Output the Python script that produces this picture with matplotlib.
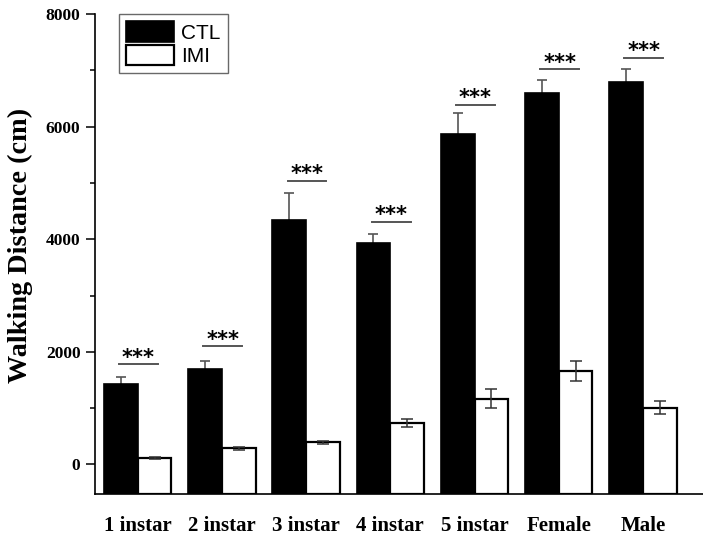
import numpy as np
import matplotlib
matplotlib.use('Agg')
import matplotlib.pyplot as plt
from matplotlib.ticker import MultipleLocator

# walking distance per stage, control vs imidacloprid
stages = ['1 instar', '2 instar', '3 instar', '4 instar', '5 instar', 'Female', 'Male']
ctl_mean = [1420, 1700, 4340, 3930, 5870, 6590, 6790]
ctl_err = [125, 145, 480, 160, 370, 230, 240]
imi_mean = [115, 285, 390, 735, 1165, 1660, 1010]
imi_err = [10, 20, 20, 65, 170, 170, 112]
sig_height = [1775, 2095, 5040, 4305, 6385, 7015, 7225]
sig_label = ['***'] * 7

x = np.arange(1, len(stages) + 1)
w = 0.4
ybase = -525  # bars start at the bottom axis line

fig = plt.figure(figsize=(7.03, 5.35), dpi=100)
ax = fig.add_axes([95 / 703, 41 / 535, 1 - 95 / 703, 480 / 535])

ax.bar(x - w / 2, np.array(ctl_mean) - ybase, w, bottom=ybase, color='black',
       edgecolor='black', linewidth=1.2, label='CTL', zorder=2)
ax.bar(x + w / 2, np.array(imi_mean) - ybase, w, bottom=ybase, color='white',
       edgecolor='black', linewidth=1.6, label='IMI', zorder=2)
# CTL error bars sit behind the black bars, so only the upper half shows
ax.errorbar(x - w / 2, ctl_mean, yerr=ctl_err, fmt='none', ecolor='#555555',
            elinewidth=1.2, capsize=3.5, capthick=1.2, zorder=1)
ax.errorbar(x + w / 2, imi_mean, yerr=imi_err, fmt='none', ecolor='#333333',
            elinewidth=1.1, capsize=4, capthick=1.1, zorder=3)

# significance lines and stars
for xi, h, s in zip(x, sig_height, sig_label):
    ax.plot([xi - 0.22, xi + 0.24], [h, h], color='#555555', lw=1.4, zorder=3)
    ax.text(xi + 0.01, h + 10, s, ha='center', va='baseline', fontsize=15,
            family='DejaVu Sans', fontweight='bold')

ax.set_xlim(0.493, 7.713)
ax.set_ylim(ybase, 8000)
ax.set_xticks(x)
ax.set_xticklabels(stages, family='Liberation Serif', fontweight='bold', fontsize=15)
ax.tick_params(axis='x', length=0, pad=16)
ax.yaxis.set_major_locator(MultipleLocator(2000))
ax.yaxis.set_minor_locator(MultipleLocator(1000))
ax.tick_params(axis='y', which='major', length=6.5, width=1.1, pad=4)
ax.tick_params(axis='y', which='minor', length=3.5, width=1.1)
for lab in ax.get_yticklabels():
    lab.set_family('Liberation Serif')
    lab.set_fontweight('bold')
    lab.set_fontsize(12.5)

ax.spines['top'].set_visible(False)
ax.spines['right'].set_visible(False)
ax.spines['left'].set_linewidth(1.2)
ax.spines['bottom'].set_linewidth(1.2)

ax.set_ylabel('Walking Distance (cm)', family='Liberation Serif', fontweight='bold',
              fontsize=20.3)
ax.yaxis.set_label_coords(-0.102, 0.518)

leg = ax.legend(loc='upper left', bbox_to_anchor=(0.039, 1.0), fancybox=False,
                prop={'family': 'Liberation Sans', 'size': 15},
                handlelength=2.3, handleheight=1.15, handletextpad=0.34,
                labelspacing=0.1, borderpad=0.35, borderaxespad=0)
leg.get_frame().set_edgecolor('#444444')
leg.get_frame().set_linewidth(1.0)

fig.savefig('out.png', dpi=100)
